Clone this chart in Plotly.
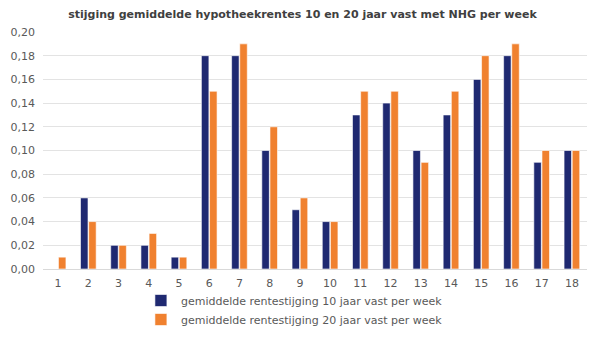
import plotly.graph_objects as go

weeks = [str(i) for i in range(1, 19)]
rente10 = [0.00, 0.06, 0.02, 0.02, 0.01, 0.18, 0.18, 0.10, 0.05, 0.04, 0.13, 0.14, 0.10, 0.13, 0.16, 0.18, 0.09, 0.10]
rente20 = [0.01, 0.04, 0.02, 0.03, 0.01, 0.15, 0.19, 0.12, 0.06, 0.04, 0.15, 0.15, 0.09, 0.15, 0.18, 0.19, 0.10, 0.10]
names = ["gemiddelde rentestijging 10 jaar vast per week", "gemiddelde rentestijging 20 jaar vast per week"]
title = "stijging gemiddelde hypotheekrentes 10 en 20 jaar vast met NHG per week"

navy = "#1F2971"
orange = "#F0812F"

fig = go.Figure()
fig.add_trace(go.Bar(x=weeks, y=rente10, name=names[0], marker=dict(color=navy, line=dict(color="white", width=0.6))))
fig.add_trace(go.Bar(x=weeks, y=rente20, name=names[1], marker=dict(color=orange, line=dict(color="white", width=0.6))))

fig.update_layout(
    width=605, height=340,
    margin=dict(l=43, r=18, t=32, b=71, autoexpand=False),
    paper_bgcolor="white", plot_bgcolor="white",
    font=dict(family="DejaVu Sans", color="#595959", size=11),
    separators=",.",
    title=dict(text="<b>" + title + "</b>", x=0.5, xanchor="center", y=1 - 14/340, yanchor="middle",
               yref="container", font=dict(size=11, color="#404040")),
    barmode="group", bargap=0.46, bargroupgap=0.08,
    xaxis=dict(showgrid=False, showline=True, linecolor="#D9D9D9", linewidth=1, ticks="",
               tickfont=dict(size=11, color="#595959"), ticklabelstandoff=4),
    yaxis=dict(range=[0, 0.2], dtick=0.02, tickformat=".2f", showgrid=True, gridcolor="#E3E3E3",
               gridwidth=1, zeroline=False, tickfont=dict(size=11, color="#595959"), ticklabelstandoff=7),
    legend=dict(orientation="v", x=0.18, xanchor="left", yref="container", y=1 - 286/340, yanchor="top",
                font=dict(size=11, color="#595959"), itemwidth=30, tracegroupgap=0,
                bgcolor="rgba(0,0,0,0)"),
    showlegend=True,
)

fig.write_html("out.html")
